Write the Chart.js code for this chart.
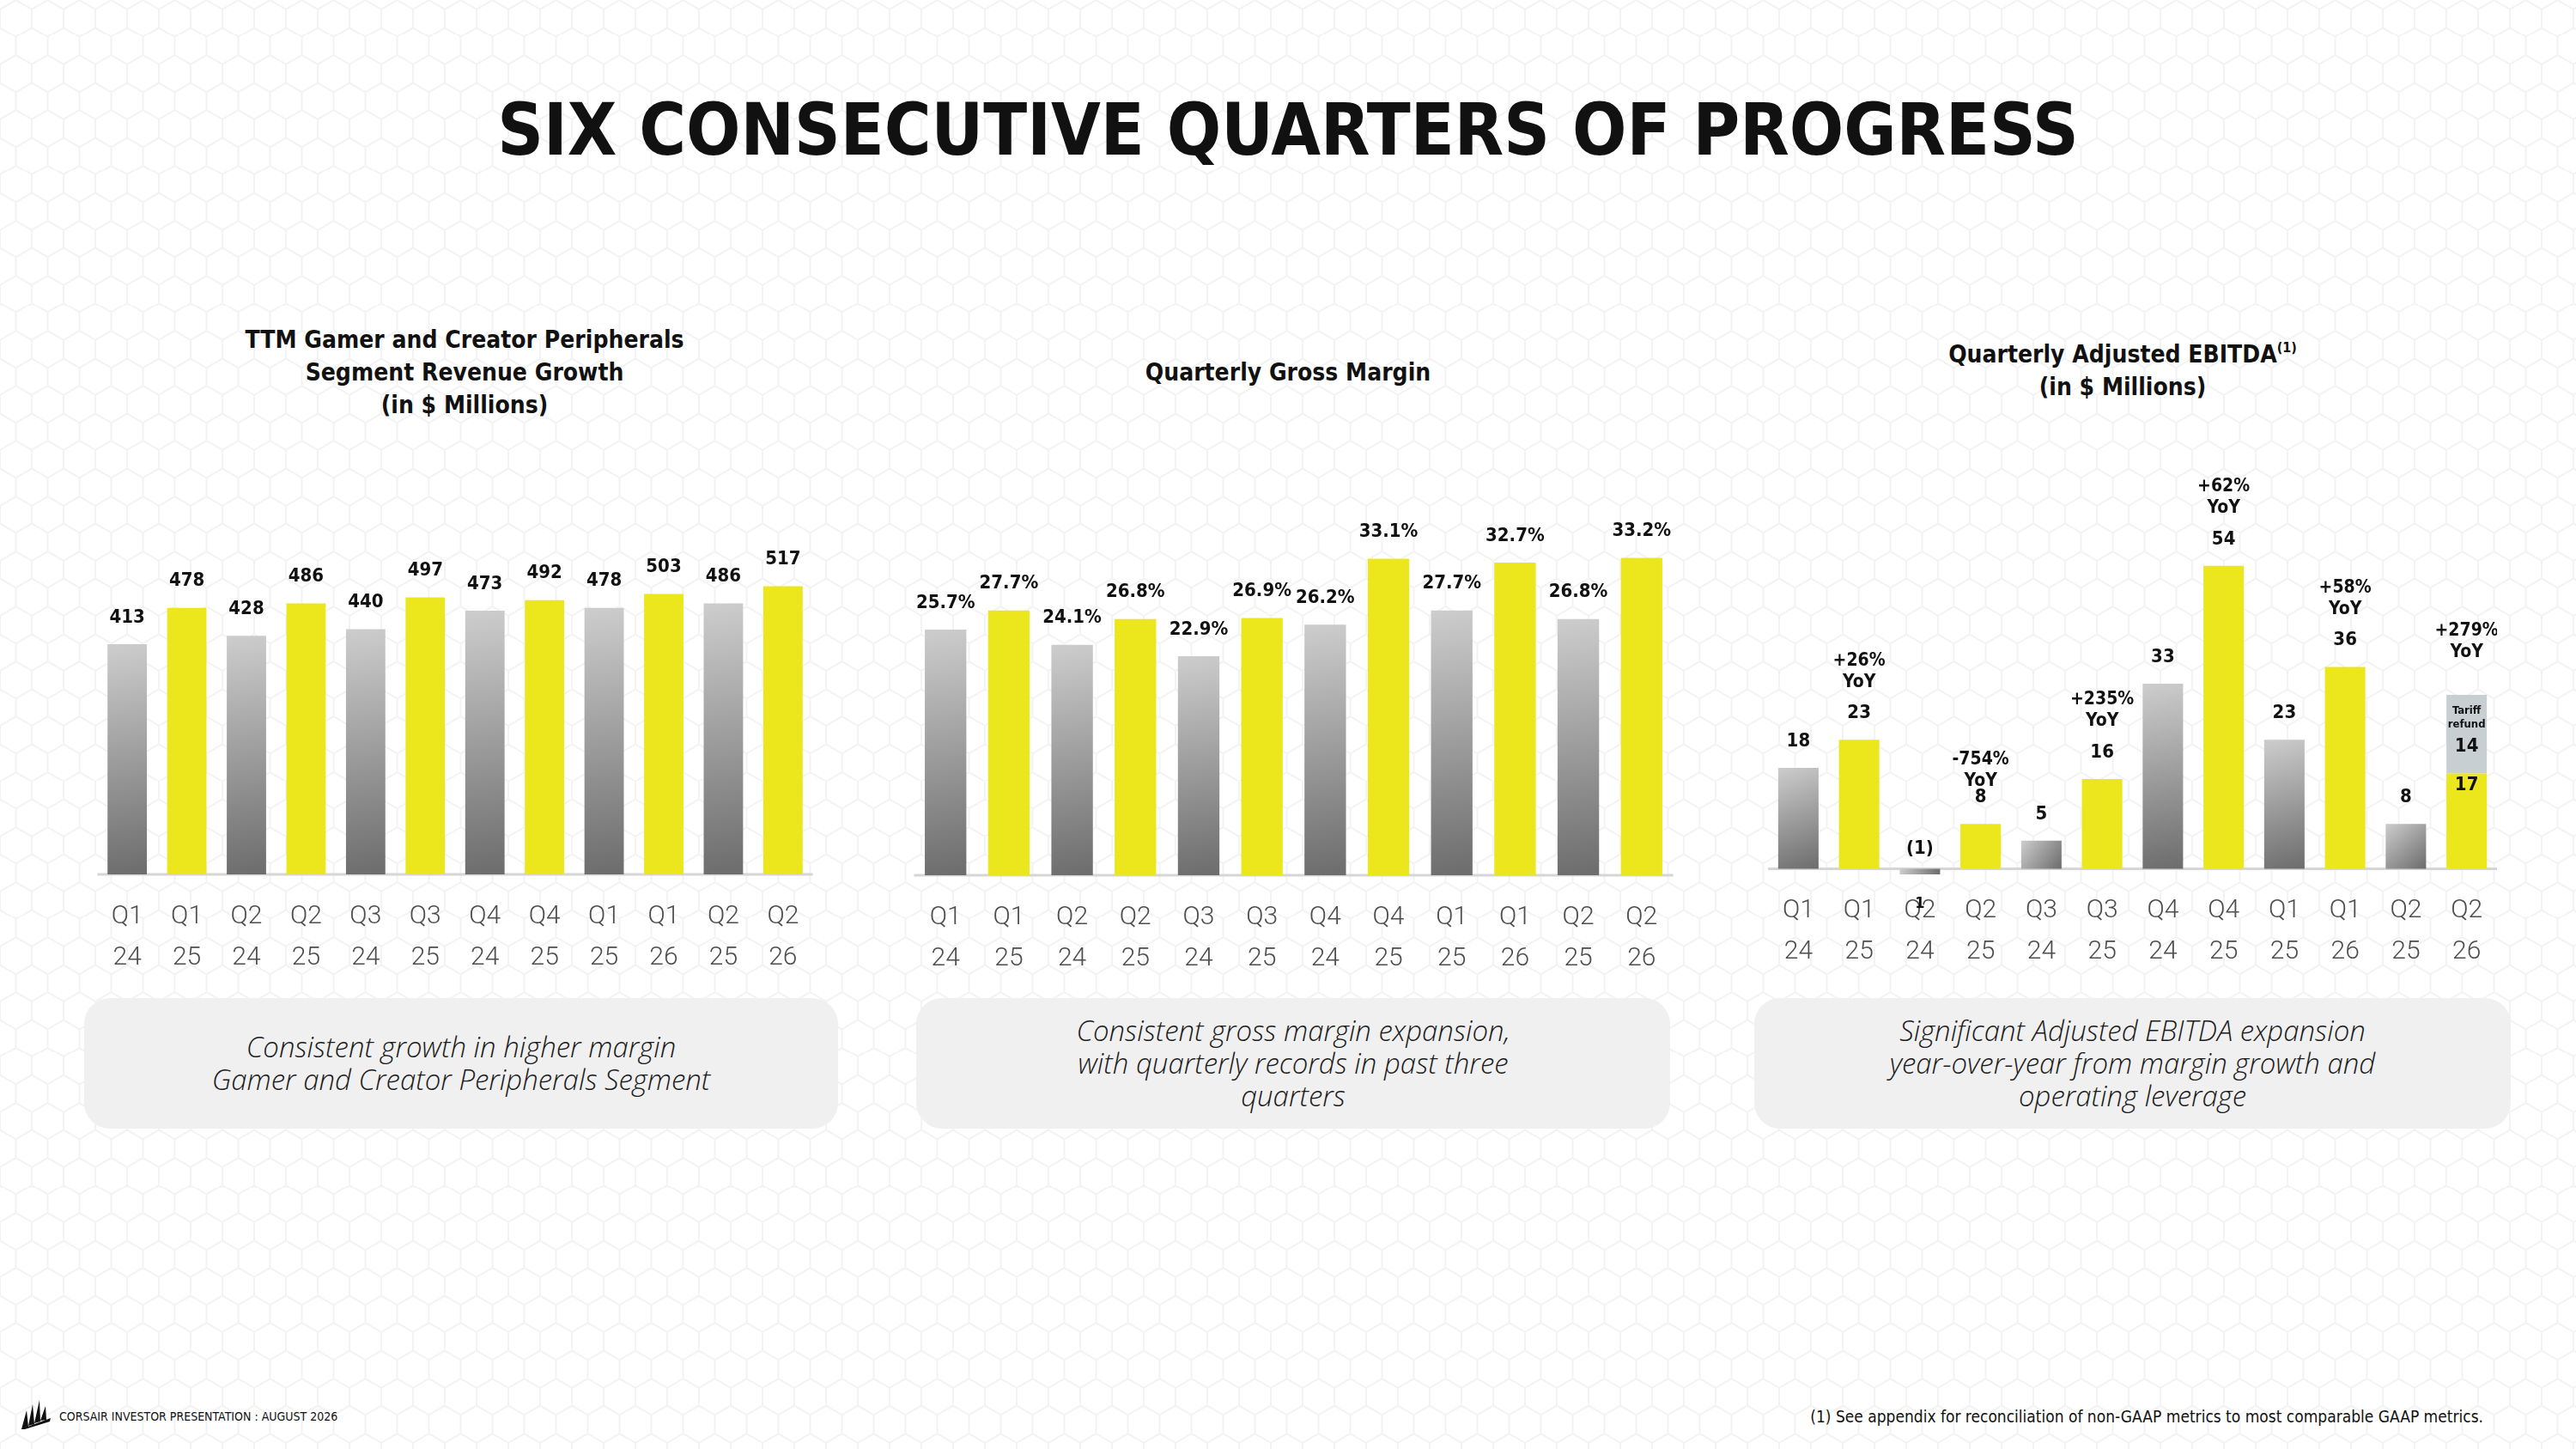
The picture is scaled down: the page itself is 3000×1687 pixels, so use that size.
<!DOCTYPE html>
<html>
<head>
<meta charset="utf-8">
<script src="https://cdn.jsdelivr.net/npm/chart.js@4.4.1/dist/chart.umd.min.js"></script>
<style>
  html, body { margin: 0; padding: 0; }
  body {
    width: 3000px; height: 1687px; position: relative; overflow: hidden;
    background: #fff url("data:image/svg+xml,%3Csvg xmlns='http://www.w3.org/2000/svg' width='37' height='64.2'%3E%3Cpath d='M18.5 0L37 10.7V32.1L18.5 42.8L0 32.1V10.7Z M18.5 42.8V64.2' fill='none' stroke='%23f3f3f3' stroke-width='2'/%3E%3C/svg%3E") repeat;
    font-family: "DejaVu Sans Condensed", "DejaVu Sans", sans-serif;
    color: #111;
  }
  .main-title {
    position: absolute; left: 0; top: 110px; width: 3000px; margin: 0;
    text-align: center; font-weight: bold; font-size: 83px; line-height: 83px;
  }
  .chart-title {
    position: absolute; text-align: center; font-weight: bold;
    font-size: 28px; line-height: 38px; transform: translateX(-50%); white-space: nowrap;
  }
  .chart-title sup { font-size: 16px; vertical-align: 12px; line-height: 0; }
  canvas { position: absolute; }
  .box {
    position: absolute; top: 1162px; height: 152px; background: #f0f0f0; border-radius: 30px;
    display: flex; align-items: center; justify-content: center; text-align: center;
    font-family: "Open Sans", sans-serif; font-style: italic; font-weight: 300;
    font-size: 33px; line-height: 38px; color: #1c1c1c;
  }
  .footer { position: absolute; top: 1640px; font-size: 14px; line-height: 18px; color: #111; }
</style>
</head>
<body>
<h1 class="main-title">SIX CONSECUTIVE QUARTERS OF PROGRESS</h1>

<div class="chart-title" style="left:541px; top:377px;">TTM Gamer and Creator Peripherals<br>Segment Revenue Growth<br>(in $ Millions)</div>
<div class="chart-title" style="left:1500px; top:415px;">Quarterly Gross Margin</div>
<div class="chart-title" style="left:2472px; top:394px;">Quarterly Adjusted EBITDA<sup>(1)</sup><br>(in $ Millions)</div>

<canvas id="revChart" width="850" height="548" style="left:105px; top:600px;"></canvas>
<canvas id="gmChart" width="897" height="559" style="left:1058px; top:590px;"></canvas>
<canvas id="ebitdaChart" width="849" height="610" style="left:2059px; top:540px;"></canvas>

<div class="box" style="left:98px; width:878px;">Consistent growth in higher margin<br>Gamer and Creator Peripherals Segment</div>
<div class="box" style="left:1067px; width:878px;">Consistent gross margin expansion,<br>with quarterly records in past three<br>quarters</div>
<div class="box" style="left:2043px; width:881px;">Significant Adjusted EBITDA expansion<br>year-over-year from margin growth and<br>operating leverage</div>

<svg style="position:absolute; left:24px; top:1630px;" width="36" height="34" viewBox="0 0 36 34">
  <path d="M1 34 L7 12 L9 31Z M9 30 L14 5 L16 28Z M16 27 L22 0 L23 25Z M23 24 L29 7 L30 23Z M0 34 L35 21 L34 25 L5 34Z" fill="#111"/>
</svg>
<div class="footer" style="left:69px;">CORSAIR INVESTOR PRESENTATION : AUGUST 2026</div>
<div class="footer" style="right:108px; top:1638px; font-size:19px; line-height:22px;">(1) See appendix for reconciliation of non-GAAP metrics to most comparable GAAP metrics.</div>

<script>
// quarter labels (two lines each)
const quarters = [["Q1", "24"], ["Q1", "25"], ["Q2", "24"], ["Q2", "25"], ["Q3", "24"], ["Q3", "25"],
                  ["Q4", "24"], ["Q4", "25"], ["Q1", "25"], ["Q1", "26"], ["Q2", "25"], ["Q2", "26"]];

// TTM segment revenue, $M
const segmentRevenue = [413, 478, 428, 486, 440, 497, 473, 492, 478, 503, 486, 517];

// quarterly gross margin, %
const grossMargin = [25.7, 27.7, 24.1, 26.8, 22.9, 26.9, 26.2, 33.1, 27.7, 32.7, 26.8, 33.2];

// quarterly adjusted EBITDA, $M (tariff refund stacked on the last quarter)
const adjEbitda = [18, 23, -1, 8, 5, 16, 33, 54, 23, 36, 8, 17];
const tariffRefund = [null, null, null, null, null, null, null, null, null, null, null, 14];
const ebitdaYoY = [null, "+26%", null, "-754%", null, "+235%", null, "+62%", null, "+58%", null, "+279%"];

const YELLOW = "#ebe71c";
const TARIFF = "#c8cfd2";
const COND = '"DejaVu Sans Condensed", "DejaVu Sans", sans-serif';

// gray bars get a light-to-dark gradient, current-year bars are yellow
function barFill(ctx) {
  if (ctx.dataIndex % 2 === 1) return YELLOW;
  var chart = ctx.chart;
  if (!chart.chartArea) return "#9a9a9a";
  var xs = chart.scales.x, ys = chart.scales.y;
  var x = xs.getPixelForValue(ctx.dataIndex);
  var hw = xs.width / quarters.length * 0.33;
  var a = ys.getPixelForValue(0), b = ys.getPixelForValue(ctx.raw);
  var g = chart.ctx.createLinearGradient(x - hw, Math.min(a, b), x + hw, Math.max(a, b));
  g.addColorStop(0, "#cdcdcd");
  g.addColorStop(1, "#6c6c6c");
  return g;
}

var zeroLine = {
  id: "zeroLine",
  beforeDatasetsDraw: function(chart) {
    var c = chart.ctx, area = chart.chartArea;
    var y = chart.scales.y.getPixelForValue(0);
    c.save();
    c.strokeStyle = "#d6d6d6";
    c.lineWidth = 3;
    c.beginPath();
    c.moveTo(area.left, y);
    c.lineTo(area.right, y);
    c.stroke();
    c.restore();
  }
};

function simpleLabels(format) {
  return {
    id: "simpleLabels",
    afterDatasetsDraw: function(chart) {
      var c = chart.ctx;
      var meta = chart.getDatasetMeta(0);
      var data = chart.data.datasets[0].data;
      c.save();
      c.fillStyle = "#111";
      c.textAlign = "center";
      c.textBaseline = "middle";
      c.font = "bold 22px " + COND;
      meta.data.forEach(function(bar, i) {
        c.fillText(format(data[i]), bar.x, bar.y - 31);
      });
      c.restore();
    }
  };
}

var ebitdaLabels = {
  id: "ebitdaLabels",
  afterDatasetsDraw: function(chart) {
    var c = chart.ctx;
    var meta0 = chart.getDatasetMeta(0), meta1 = chart.getDatasetMeta(1);
    c.save();
    c.fillStyle = "#111";
    c.textAlign = "center";
    c.textBaseline = "middle";
    meta0.data.forEach(function(bar, i) {
      var v = adjEbitda[i];
      c.font = "bold 22px " + COND;
      if (v < 0) {
        c.fillText("(" + (-v) + ")", bar.x, bar.base - 23);
        c.font = "bold 18px " + COND;
        c.fillText(String(-v), bar.x, bar.y + 34);
        return;
      }
      var yoyTop;
      if (tariffRefund[i] != null) {
        var t = meta1.data[i];
        c.fillText(String(v), bar.x, bar.y + 14);
        c.fillText(String(tariffRefund[i]), bar.x, bar.y - 31);
        c.font = "bold 13px " + COND;
        c.fillText("refund", bar.x, bar.y - 57);
        c.fillText("Tariff", bar.x, bar.y - 73);
        yoyTop = t.y - 50;
      } else if (v < 10) {
        // small bar: the YoY note sits tight on the value
        c.fillText(String(v), bar.x, bar.y - 31);
        yoyTop = bar.y - 31 - 19;
      } else {
        c.fillText(String(v), bar.x, bar.y - 31);
        yoyTop = bar.y - 31 - 36;
      }
      if (ebitdaYoY[i]) {
        c.font = "bold 21px " + COND;
        c.fillText("YoY", bar.x, yoyTop);
        c.fillText(ebitdaYoY[i], bar.x, yoyTop - 25);
      }
    });
    c.restore();
  }
};

function makeChart(id, datasets, yMin, yMax, tickPad, labelPlugin, stacked) {
  return new Chart(document.getElementById(id), {
    type: "bar",
    data: { labels: quarters, datasets: datasets },
    options: {
      responsive: false,
      animation: false,
      devicePixelRatio: 1,
      layout: { padding: 0 },
      plugins: { legend: { display: false }, tooltip: { enabled: false } },
      scales: {
        x: {
          stacked: stacked,
          grid: { display: false, drawTicks: false },
          border: { display: false },
          ticks: {
            color: "#4d4d4d", padding: tickPad, maxRotation: 0, autoSkip: false,
            font: { family: "Roboto", weight: "300", size: 30, lineHeight: 1.6 }
          },
          afterFit: function(s) { s.height = 130; }
        },
        y: { stacked: stacked, display: false, min: yMin, max: yMax }
      }
    },
    plugins: [zeroLine, labelPlugin]
  });
}

makeChart("revChart", [{
  data: segmentRevenue, backgroundColor: barFill,
  barPercentage: 0.66, categoryPercentage: 1
}], 0, 644, 25, simpleLabels(function(v) { return String(v); }), false);

makeChart("gmChart", [{
  data: grossMargin, backgroundColor: barFill,
  barPercentage: 0.656, categoryPercentage: 1
}], 0, 38.54, 25, simpleLabels(function(v) { return v.toFixed(1) + "%"; }), false);

makeChart("ebitdaChart", [{
  data: adjEbitda, backgroundColor: barFill,
  barPercentage: 0.665, categoryPercentage: 1
}, {
  data: tariffRefund, backgroundColor: TARIFF,
  barPercentage: 0.665, categoryPercentage: 1
}], -1.3, 72.2, 16, ebitdaLabels, true);
</script>
</body>
</html>
